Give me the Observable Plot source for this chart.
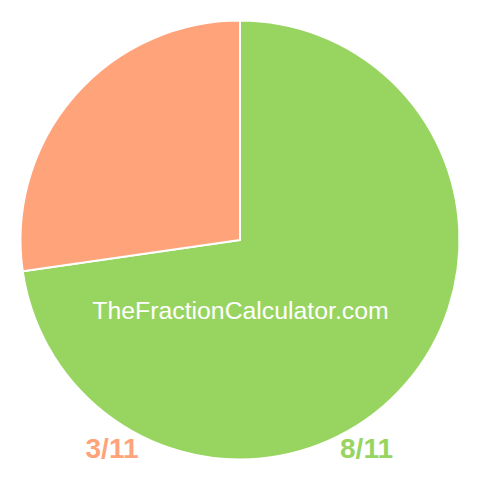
<!DOCTYPE html>
<html>
<head>
<meta charset="utf-8">
<script src="https://cdn.jsdelivr.net/npm/d3@7"></script>
<script src="https://cdn.jsdelivr.net/npm/@observablehq/plot@0.6"></script>
<style>
  html, body { margin: 0; padding: 0; background: #fff; }
</style>
</head>
<body>
<div id="chart"></div>
<script>
const labels = ["8/11", "3/11"];
const values = [8, 3];
const colors = ["#98d560", "#ffa37a"];
const watermark = "TheFractionCalculator.com";

const data = labels.map((l, i) => ({label: l, value: values[i], color: colors[i]}));
const pie = d3.pie().sort(null).value(d => d.value)(data);

const W = 480, H = 480, cx = 240, cy = 240, R = 219.5;

const pieMark = (index, scales, values, dims, context) => {
  const g = d3.create("svg:g").attr("transform", `translate(${scales.x(cx)},${scales.y(cy)})`);
  const arc = d3.arc().innerRadius(0).outerRadius(R);
  g.selectAll("path").data(pie).join("path")
    .attr("d", arc)
    .attr("fill", d => d.data.color)
    .attr("stroke", "#fff")
    .attr("stroke-width", 2)
    .attr("stroke-linejoin", "round");
  return g.node();
};

const labelData = [
  {text: labels[1], color: colors[1], x: 111.5, y: 448.5},
  {text: labels[0], color: colors[0], x: 366, y: 448.5}
];

const chart = Plot.plot({
  width: W, height: H,
  margin: 0,
  x: {domain: [0, W], range: [0, W], axis: null},
  y: {domain: [0, H], range: [0, H], axis: null},
  style: {background: "#fff"},
  marks: [
    pieMark,
    Plot.text([watermark], {x: () => 240, y: () => 310.5, text: d => d, fill: "#fff",
      fontSize: 24.8, fontFamily: "Liberation Sans, Arial, sans-serif"}),
    Plot.text(labelData, {x: "x", y: "y", text: "text", fill: d => d.color,
      fontSize: 28, fontWeight: "bold", fontFamily: "Liberation Sans, Arial, sans-serif"})
  ]
});
document.getElementById("chart").appendChild(chart);
</script>
</body>
</html>
